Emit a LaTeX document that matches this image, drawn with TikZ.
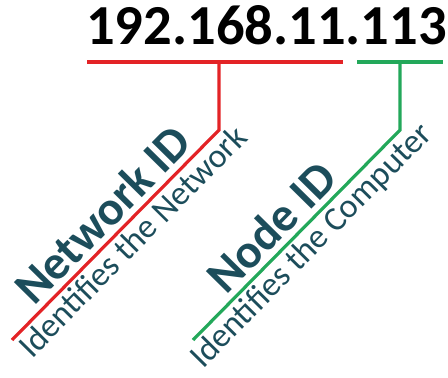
\documentclass[tikz,border=0pt]{standalone}
\usepackage{fontspec}
\setmainfont{Carlito}
\definecolor{rosso}{HTML}{E32326}
\definecolor{verde}{HTML}{23A85A}
\definecolor{testo}{HTML}{1C4D5B}

\begin{document}
\begin{tikzpicture}[x=0.75pt, y=-0.75pt,
    etichetta/.style={sloped, text=testo, inner sep=0pt},
    linea/.style={line width=2.4pt, line join=miter}]
\useasboundingbox (0,0) rectangle (448,377);

% Indirizzo IP
\node[font=\fontsize{42.4}{48}\selectfont\bfseries, anchor=base] (ip) at (266.5,45) {192.168.11.113};

% Parentesi e scritte delle due parti
\foreach \name/\col/\xl/\xr/\xt/\titolo/\desc/\pa/\pb in
    {net/rosso/87/343/219/Network ID/Identifies the Network/0.52/0.525,
     host/verde/357/443/400/Node ID/Identifies the Computer/0.46/0.51} {
    \coordinate (\name L) at (\xl,62);
    \coordinate (\name R) at (\xr,62);
    \coordinate (\name T) at (\xt,62);
    \coordinate (\name K) at (\xt,130);
    \coordinate (\name E) at ({\xt-207},340);

    \draw[line width=3pt, draw=\col] (\name L) -- (\name R);
    \draw[linea, draw=\col] (\name T) -- (\name K) -- (\name E);

    \path (\name E) -- (\name K)
        node[etichetta, pos=\pa, above=5pt, font=\fontsize{36}{40}\selectfont\bfseries] (\name titolo) {\titolo}
        node[etichetta, pos=\pb, below=3pt, font=\fontsize{25.5}{30}\selectfont] (\name desc) {\desc};
}

\end{tikzpicture}
\end{document}
